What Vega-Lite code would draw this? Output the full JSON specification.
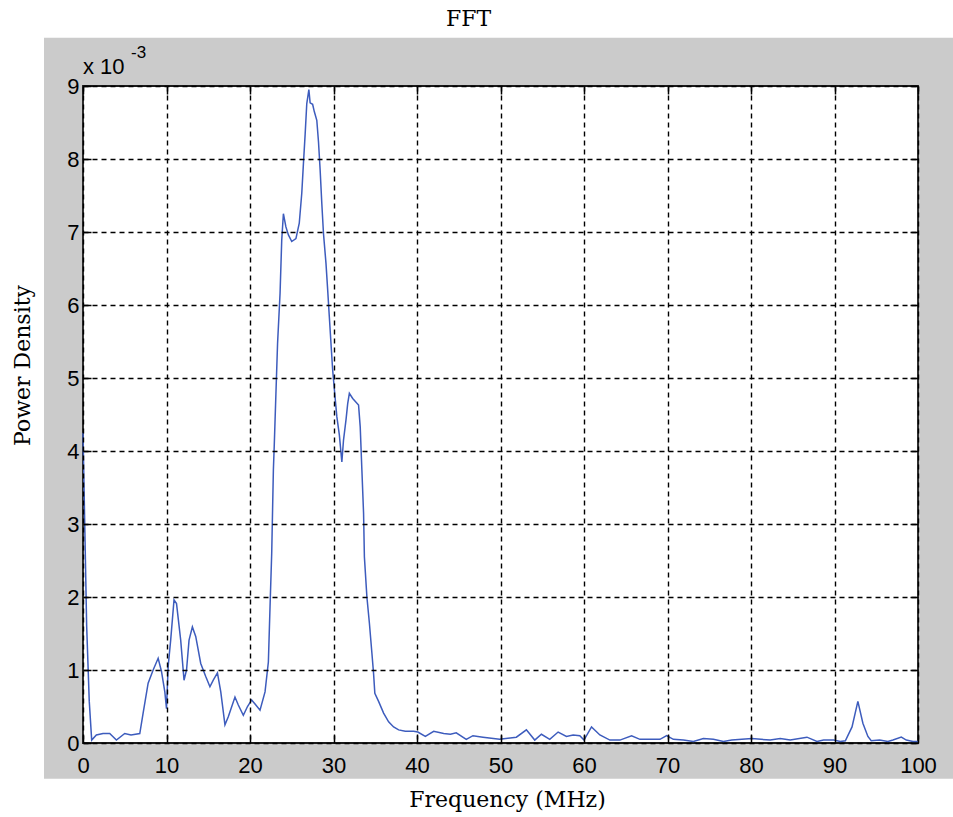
{
  "$schema": "https://vega.github.io/schema/vega-lite/v6.json",
  "width": 835,
  "height": 657,
  "autosize": {"type": "none"},
  "padding": {"left": 83, "top": 86, "right": 35, "bottom": 74},
  "background": "white",
  "config": {"view": {"stroke": null}},
  "title": {
    "text": "FFT",
    "font": "DejaVu Serif",
    "fontSize": 22,
    "fontWeight": "normal",
    "color": "black",
    "anchor": "middle",
    "dx": -32,
    "offset": 7
  },
  "resolve": {"axis": {"x": "independent", "y": "independent"}},
  "layer": [
    {
      "data": {"values": [{"panel": "figure"}]},
      "mark": {"type": "rect", "fill": "#cbcbcb", "stroke": null},
      "encoding": {
        "x": {
          "datum": -4.67,
          "type": "quantitative",
          "scale": {"domain": [0, 100], "nice": false, "zero": false},
          "axis": {
            "orient": "bottom",
            "values": [0, 10, 20, 30, 40, 50, 60, 70, 80, 90, 100],
            "domain": false,
            "ticks": true,
            "tickSize": -8,
            "tickColor": "black",
            "tickWidth": 1.5,
            "labelFont": "Liberation Sans",
            "labelFontSize": 22,
            "labelColor": "black",
            "labelPadding": 20,
            "labelFlush": false,
            "grid": true,
            "gridColor": "black",
            "gridDash": [5, 4],
            "gridWidth": 1.4,
            "gridOpacity": 1,
            "zindex": 1,
            "title": "Frequency (MHz)",
            "titleFont": "DejaVu Serif",
            "titleFontSize": 22,
            "titleFontWeight": "normal",
            "titleColor": "black",
            "titleX": 424,
            "titleY": 63,
            "titleBaseline": "alphabetic",
            "titleAlign": "center"
          }
        },
        "x2": {"datum": 105},
        "y": {
          "datum": 9.66,
          "type": "quantitative",
          "scale": {"domain": [0, 9], "nice": false, "zero": false},
          "axis": {
            "orient": "left",
            "values": [0, 1, 2, 3, 4, 5, 6, 7, 8, 9],
            "domain": false,
            "ticks": true,
            "tickSize": -8,
            "tickColor": "black",
            "tickWidth": 1.5,
            "labelFont": "Liberation Sans",
            "labelFontSize": 22,
            "labelColor": "black",
            "labelPadding": 12,
            "labelFlush": false,
            "grid": true,
            "gridColor": "black",
            "gridDash": [5, 4],
            "gridWidth": 1.4,
            "gridOpacity": 1,
            "zindex": 1,
            "title": "Power Density",
            "titleFont": "DejaVu Serif",
            "titleFontSize": 22,
            "titleFontWeight": "normal",
            "titleColor": "black",
            "titleAngle": -90,
            "titleX": -61,
            "titleY": 279,
            "titleAlign": "center",
            "titleBaseline": "middle"
          }
        },
        "y2": {"datum": -0.49}
      }
    },
    {
      "data": {"values": [{"panel": "axes"}]},
      "mark": {"type": "rect", "fill": "white", "stroke": "#1a1a1a", "strokeWidth": 1.8},
      "encoding": {
        "x": {
          "datum": 0,
          "type": "quantitative",
          "scale": {"domain": [0, 100], "nice": false, "zero": false},
          "axis": {
            "orient": "top",
            "values": [0, 10, 20, 30, 40, 50, 60, 70, 80, 90, 100],
            "domain": false,
            "labels": false,
            "grid": false,
            "tickSize": -8,
            "tickColor": "black",
            "tickWidth": 1.5,
            "zindex": 1,
            "title": null
          }
        },
        "x2": {"datum": 100},
        "y": {
          "datum": 9,
          "type": "quantitative",
          "scale": {"domain": [0, 9], "nice": false, "zero": false},
          "axis": {
            "orient": "right",
            "values": [0, 1, 2, 3, 4, 5, 6, 7, 8, 9],
            "domain": false,
            "labels": false,
            "grid": false,
            "tickSize": -8,
            "tickColor": "black",
            "tickWidth": 1.5,
            "zindex": 1,
            "title": null
          }
        },
        "y2": {"datum": 0}
      }
    },
    {
      "data": {
        "values": [
          {"frequency_mhz": 0, "density_e3": 4.25},
          {"frequency_mhz": 0.44, "density_e3": 1.6},
          {"frequency_mhz": 0.75, "density_e3": 0.57},
          {"frequency_mhz": 1.04, "density_e3": 0.04},
          {"frequency_mhz": 1.6, "density_e3": 0.11},
          {"frequency_mhz": 2.4, "density_e3": 0.13},
          {"frequency_mhz": 3.2, "density_e3": 0.13},
          {"frequency_mhz": 4.0, "density_e3": 0.04},
          {"frequency_mhz": 5.0, "density_e3": 0.13},
          {"frequency_mhz": 5.75, "density_e3": 0.11},
          {"frequency_mhz": 6.8, "density_e3": 0.13},
          {"frequency_mhz": 7.2, "density_e3": 0.41},
          {"frequency_mhz": 7.8, "density_e3": 0.82},
          {"frequency_mhz": 8.4, "density_e3": 1.0},
          {"frequency_mhz": 9.0, "density_e3": 1.16},
          {"frequency_mhz": 9.4, "density_e3": 0.98},
          {"frequency_mhz": 9.8, "density_e3": 0.7},
          {"frequency_mhz": 10.0, "density_e3": 0.47},
          {"frequency_mhz": 10.2, "density_e3": 1.05},
          {"frequency_mhz": 10.5, "density_e3": 1.41},
          {"frequency_mhz": 10.9, "density_e3": 1.96},
          {"frequency_mhz": 11.2, "density_e3": 1.91},
          {"frequency_mhz": 11.7, "density_e3": 1.41},
          {"frequency_mhz": 12.1, "density_e3": 0.86},
          {"frequency_mhz": 12.4, "density_e3": 1.0},
          {"frequency_mhz": 12.7, "density_e3": 1.41},
          {"frequency_mhz": 13.1, "density_e3": 1.59},
          {"frequency_mhz": 13.5, "density_e3": 1.46},
          {"frequency_mhz": 14.1, "density_e3": 1.09},
          {"frequency_mhz": 14.7, "density_e3": 0.91},
          {"frequency_mhz": 15.2, "density_e3": 0.77},
          {"frequency_mhz": 15.6, "density_e3": 0.86},
          {"frequency_mhz": 16.1, "density_e3": 0.96},
          {"frequency_mhz": 16.5, "density_e3": 0.7},
          {"frequency_mhz": 17.0, "density_e3": 0.25},
          {"frequency_mhz": 17.4, "density_e3": 0.36},
          {"frequency_mhz": 18.2, "density_e3": 0.63},
          {"frequency_mhz": 18.6, "density_e3": 0.52},
          {"frequency_mhz": 19.2, "density_e3": 0.38},
          {"frequency_mhz": 19.7, "density_e3": 0.5},
          {"frequency_mhz": 20.2, "density_e3": 0.59},
          {"frequency_mhz": 20.7, "density_e3": 0.52},
          {"frequency_mhz": 21.2, "density_e3": 0.45},
          {"frequency_mhz": 21.8, "density_e3": 0.7},
          {"frequency_mhz": 22.2, "density_e3": 1.11},
          {"frequency_mhz": 22.4, "density_e3": 1.87},
          {"frequency_mhz": 22.6, "density_e3": 2.6},
          {"frequency_mhz": 22.8, "density_e3": 3.74},
          {"frequency_mhz": 22.9, "density_e3": 4.06},
          {"frequency_mhz": 23.1, "density_e3": 4.77},
          {"frequency_mhz": 23.3, "density_e3": 5.47},
          {"frequency_mhz": 23.6, "density_e3": 6.16},
          {"frequency_mhz": 23.8, "density_e3": 6.89},
          {"frequency_mhz": 24.0, "density_e3": 7.25},
          {"frequency_mhz": 24.3, "density_e3": 7.07},
          {"frequency_mhz": 24.6, "density_e3": 6.96},
          {"frequency_mhz": 25.0, "density_e3": 6.87},
          {"frequency_mhz": 25.5, "density_e3": 6.91},
          {"frequency_mhz": 25.9, "density_e3": 7.12},
          {"frequency_mhz": 26.2, "density_e3": 7.53},
          {"frequency_mhz": 26.4, "density_e3": 7.94},
          {"frequency_mhz": 26.6, "density_e3": 8.33},
          {"frequency_mhz": 26.8, "density_e3": 8.76},
          {"frequency_mhz": 27.05, "density_e3": 8.95},
          {"frequency_mhz": 27.2, "density_e3": 8.77},
          {"frequency_mhz": 27.5, "density_e3": 8.75},
          {"frequency_mhz": 27.7, "density_e3": 8.65},
          {"frequency_mhz": 28.0, "density_e3": 8.53},
          {"frequency_mhz": 28.2, "density_e3": 8.24},
          {"frequency_mhz": 28.4, "density_e3": 7.85},
          {"frequency_mhz": 28.6, "density_e3": 7.39},
          {"frequency_mhz": 28.8, "density_e3": 6.98},
          {"frequency_mhz": 29.1, "density_e3": 6.57},
          {"frequency_mhz": 29.3, "density_e3": 6.21},
          {"frequency_mhz": 29.5, "density_e3": 5.84},
          {"frequency_mhz": 29.7, "density_e3": 5.47},
          {"frequency_mhz": 29.9, "density_e3": 5.11},
          {"frequency_mhz": 30.2, "density_e3": 4.72},
          {"frequency_mhz": 30.4, "density_e3": 4.47},
          {"frequency_mhz": 30.7, "density_e3": 4.22},
          {"frequency_mhz": 31.0, "density_e3": 3.85},
          {"frequency_mhz": 31.2, "density_e3": 4.15},
          {"frequency_mhz": 31.5, "density_e3": 4.43},
          {"frequency_mhz": 31.7, "density_e3": 4.65},
          {"frequency_mhz": 31.9, "density_e3": 4.79},
          {"frequency_mhz": 32.3, "density_e3": 4.72},
          {"frequency_mhz": 33.0, "density_e3": 4.63},
          {"frequency_mhz": 33.2, "density_e3": 4.33},
          {"frequency_mhz": 33.4, "density_e3": 3.74},
          {"frequency_mhz": 33.6, "density_e3": 3.15},
          {"frequency_mhz": 33.7, "density_e3": 2.55},
          {"frequency_mhz": 34.0, "density_e3": 2.0},
          {"frequency_mhz": 34.3, "density_e3": 1.64},
          {"frequency_mhz": 34.6, "density_e3": 1.23},
          {"frequency_mhz": 34.8, "density_e3": 0.95},
          {"frequency_mhz": 34.95, "density_e3": 0.68},
          {"frequency_mhz": 35.4, "density_e3": 0.57},
          {"frequency_mhz": 36.0, "density_e3": 0.41},
          {"frequency_mhz": 36.6, "density_e3": 0.29},
          {"frequency_mhz": 37.2, "density_e3": 0.22},
          {"frequency_mhz": 37.8, "density_e3": 0.18},
          {"frequency_mhz": 38.6, "density_e3": 0.16},
          {"frequency_mhz": 39.6, "density_e3": 0.16},
          {"frequency_mhz": 40.1, "density_e3": 0.15},
          {"frequency_mhz": 41.0, "density_e3": 0.09},
          {"frequency_mhz": 42.0, "density_e3": 0.16},
          {"frequency_mhz": 43.2, "density_e3": 0.13},
          {"frequency_mhz": 44.0, "density_e3": 0.12},
          {"frequency_mhz": 44.7, "density_e3": 0.14},
          {"frequency_mhz": 45.9, "density_e3": 0.05},
          {"frequency_mhz": 46.7, "density_e3": 0.1},
          {"frequency_mhz": 47.9, "density_e3": 0.08},
          {"frequency_mhz": 49.9, "density_e3": 0.05},
          {"frequency_mhz": 51.9, "density_e3": 0.08},
          {"frequency_mhz": 53.1, "density_e3": 0.18},
          {"frequency_mhz": 54.1, "density_e3": 0.04},
          {"frequency_mhz": 54.9, "density_e3": 0.12},
          {"frequency_mhz": 55.9, "density_e3": 0.05},
          {"frequency_mhz": 56.9, "density_e3": 0.15},
          {"frequency_mhz": 57.9, "density_e3": 0.09},
          {"frequency_mhz": 58.7, "density_e3": 0.11},
          {"frequency_mhz": 59.5, "density_e3": 0.1},
          {"frequency_mhz": 60.0, "density_e3": 0.04},
          {"frequency_mhz": 60.9, "density_e3": 0.22},
          {"frequency_mhz": 61.9, "density_e3": 0.11},
          {"frequency_mhz": 63.1, "density_e3": 0.04},
          {"frequency_mhz": 64.3, "density_e3": 0.04},
          {"frequency_mhz": 65.7, "density_e3": 0.1},
          {"frequency_mhz": 66.7, "density_e3": 0.05},
          {"frequency_mhz": 69.1, "density_e3": 0.05},
          {"frequency_mhz": 69.9, "density_e3": 0.1},
          {"frequency_mhz": 70.7, "density_e3": 0.05},
          {"frequency_mhz": 71.9, "density_e3": 0.04},
          {"frequency_mhz": 73.1, "density_e3": 0.02},
          {"frequency_mhz": 74.3, "density_e3": 0.06},
          {"frequency_mhz": 75.5, "density_e3": 0.05},
          {"frequency_mhz": 76.7, "density_e3": 0.02},
          {"frequency_mhz": 77.7, "density_e3": 0.04},
          {"frequency_mhz": 80.1, "density_e3": 0.06},
          {"frequency_mhz": 82.3, "density_e3": 0.04},
          {"frequency_mhz": 83.5, "density_e3": 0.06},
          {"frequency_mhz": 84.7, "density_e3": 0.04},
          {"frequency_mhz": 86.7, "density_e3": 0.08},
          {"frequency_mhz": 87.9, "density_e3": 0.02},
          {"frequency_mhz": 88.7, "density_e3": 0.04},
          {"frequency_mhz": 89.9, "density_e3": 0.04},
          {"frequency_mhz": 90.7, "density_e3": 0.02},
          {"frequency_mhz": 91.3, "density_e3": 0.03},
          {"frequency_mhz": 92.1, "density_e3": 0.22},
          {"frequency_mhz": 92.8, "density_e3": 0.57},
          {"frequency_mhz": 93.4, "density_e3": 0.27},
          {"frequency_mhz": 94.0, "density_e3": 0.09},
          {"frequency_mhz": 94.4, "density_e3": 0.03},
          {"frequency_mhz": 95.4, "density_e3": 0.04},
          {"frequency_mhz": 96.4, "density_e3": 0.02},
          {"frequency_mhz": 97.0, "density_e3": 0.04},
          {"frequency_mhz": 98.0, "density_e3": 0.08},
          {"frequency_mhz": 98.6, "density_e3": 0.04},
          {"frequency_mhz": 99.4, "density_e3": 0.02},
          {"frequency_mhz": 100, "density_e3": 0.02}
        ]
      },
      "mark": {"type": "line", "color": "#3d5cbd", "strokeWidth": 1.5, "interpolate": "linear"},
      "encoding": {
        "x": {
          "field": "frequency_mhz",
          "type": "quantitative",
          "scale": {"domain": [0, 100], "nice": false, "zero": false},
          "axis": null
        },
        "y": {
          "field": "density_e3",
          "type": "quantitative",
          "scale": {"domain": [0, 9], "nice": false, "zero": false},
          "axis": null
        }
      }
    },
    {
      "data": {"values": [{"label": "x 10"}]},
      "mark": {"type": "text", "font": "Liberation Sans", "fontSize": 22, "color": "black", "align": "left", "baseline": "alphabetic", "dx": 0, "dy": -12},
      "encoding": {
        "x": {"datum": 0, "type": "quantitative", "scale": {"domain": [0, 100], "nice": false, "zero": false}, "axis": null},
        "y": {"datum": 9, "type": "quantitative", "scale": {"domain": [0, 9], "nice": false, "zero": false}, "axis": null},
        "text": {"field": "label"}
      }
    },
    {
      "data": {"values": [{"label": "-3"}]},
      "mark": {"type": "text", "font": "Liberation Sans", "fontSize": 17, "color": "black", "align": "left", "baseline": "alphabetic", "dx": 48, "dy": -28},
      "encoding": {
        "x": {"datum": 0, "type": "quantitative", "scale": {"domain": [0, 100], "nice": false, "zero": false}, "axis": null},
        "y": {"datum": 9, "type": "quantitative", "scale": {"domain": [0, 9], "nice": false, "zero": false}, "axis": null},
        "text": {"field": "label"}
      }
    }
  ]
}
